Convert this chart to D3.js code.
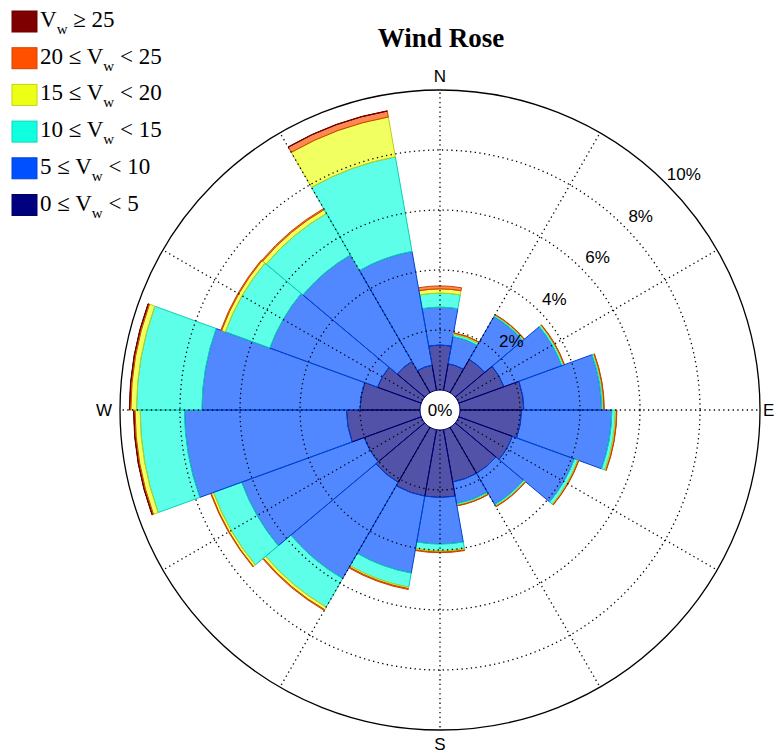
<!DOCTYPE html>
<html>
<head>
<meta charset="utf-8">
<script src="https://cdn.jsdelivr.net/npm/d3@7"></script>
<style>
  body { margin: 0; background: #fff; }
</style>
</head>
<body>
<div id="viz"></div>
<script>
const width = 776;
const height = 756;
const cx = 440;
const cy = 410;

// wind direction of each sector (deg, clockwise from N), 20 deg wide
const directions = [0, 20, 40, 60, 80, 100, 120, 140, 160, 180, 200, 220, 240, 260, 280, 300, 320, 340];

// frequency (%) per speed class for each direction
const v0to5   = [1.50, 0.90, 1.28, 1.60, 2.13, 2.05, 1.90, 1.77, 1.77, 2.25, 2.25, 2.12, 2.02, 2.45, 2.00, 1.55, 1.20, 0.85];
const v5to10  = [1.26, 0.92, 1.65, 2.05, 2.59, 3.01, 2.20, 1.20, 0.73, 1.55, 2.60, 3.70, 4.35, 5.40, 5.27, 3.82, 4.10, 3.85];
const v10to15 = [0.47, 0.08, 0.05, 0.07, 0.06, 0.12, 0.12, 0.06, 0.05, 0.23, 0.48, 1.10, 1.00, 1.48, 2.18, 1.58, 1.60, 3.20];
const v15to20 = [0.14, 0.04, 0.02, 0.02, 0.02, 0.04, 0.03, 0.02, 0.02, 0.04, 0.05, 0.10, 0.08, 0.17, 0.19, 0.13, 0.15, 1.35];
const v20to25 = [0.10, 0.01, 0.01, 0.01, 0.01, 0.01, 0.01, 0.01, 0.01, 0.02, 0.03, 0.03, 0.02, 0.04, 0.04, 0.03, 0.04, 0.20];
const v25up   = [0.00, 0.00, 0.00, 0.00, 0.00, 0.00, 0.00, 0.00, 0.00, 0.00, 0.00, 0.00, 0.00, 0.01, 0.01, 0.00, 0.00, 0.01];

const speedSeries = [v0to5, v5to10, v10to15, v15to20, v20to25, v25up];
const binColors = ['#00007f', '#0050ff', '#10ffdf', '#ecff14', '#ff5000', '#7f0000'];

// legend rows, top to bottom: [before "V", after subscript]
const legendPrefix = ['', '20 \u2264 ', '15 \u2264 ', '10 \u2264 ', '5 \u2264 ', '0 \u2264 '];
const legendSuffix = [' \u2265 25', ' < 25', ' < 20', ' < 15', ' < 10', ' < 5'];
const legendColors = ['#7f0000', '#ff5000', '#ecff14', '#10ffdf', '#0050ff', '#00007f'];

const ringTicks = [2, 4, 6, 8, 10];
const compassNames = ['N', 'E', 'S', 'W'];
const compassAngles = [0, 90, 180, 270];

const sectorWidth = 20;

const rScale = d3.scaleLinear()
    .domain([0, 10])
    .range([20, 320]);

const svg = d3.select('#viz')
    .append('svg')
        .attr('width', width)
        .attr('height', height)
        .attr('viewBox', [0, 0, width, height]);

svg.append('rect')
    .attr('width', width)
    .attr('height', height)
    .attr('fill', '#fff');

const g = svg.append('g')
    .attr('transform', `translate(${cx}, ${cy})`);

// build stacked pieces
let pieces = [];
directions.forEach((dir, i) => {
    let cum = 0;
    speedSeries.forEach((series, k) => {
        const v = series[i];
        if (v > 0) {
            pieces.push({dir: dir, lo: cum, hi: cum + v, k: k});
        }
        cum += v;
    });
});

const arc = d3.arc()
    .innerRadius(d => rScale(d.lo))
    .outerRadius(d => rScale(d.hi))
    .startAngle(d => (d.dir - sectorWidth / 2) * Math.PI / 180)
    .endAngle(d => (d.dir + sectorWidth / 2) * Math.PI / 180);

g.selectAll('path.sector')
    .data(pieces)
    .join('path')
        .attr('class', 'sector')
        .attr('d', arc)
        .attr('fill', d => binColors[d.k])
        .attr('fill-opacity', 0.68)
        .attr('stroke', d => d3.color(binColors[d.k]).darker(0.6))
        .attr('stroke-width', 1);

// grid circles (dotted) and outer circle
g.selectAll('circle.grid')
    .data(ringTicks)
    .join('circle')
        .attr('class', 'grid')
        .attr('r', d => rScale(d))
        .attr('fill', 'none')
        .attr('stroke', '#000')
        .attr('stroke-width', 1.3)
        .attr('stroke-dasharray', d => d === 10 ? null : '1.3,3.4');

// spokes every 30 deg
const spokes = d3.range(0, 360, 30);
g.selectAll('line.spoke')
    .data(spokes)
    .join('line')
        .attr('class', 'spoke')
        .attr('x1', d => rScale(0) * Math.sin(d * Math.PI / 180))
        .attr('y1', d => -rScale(0) * Math.cos(d * Math.PI / 180))
        .attr('x2', d => rScale(10) * Math.sin(d * Math.PI / 180))
        .attr('y2', d => -rScale(10) * Math.cos(d * Math.PI / 180))
        .attr('stroke', '#000')
        .attr('stroke-width', 1.3)
        .attr('stroke-dasharray', '1.3,3.4');

// white hole with 0%
g.append('circle')
    .attr('r', rScale(0) - 1)
    .attr('fill', '#fff');

g.append('text')
    .attr('x', 0)
    .attr('y', 0)
    .attr('text-anchor', 'middle')
    .attr('dominant-baseline', 'central')
    .style('font-family', '"Liberation Sans", Arial, sans-serif')
    .style('font-size', '17px')
    .text('0%');

// ring labels along ~46 deg
const labelAngle = 46 * Math.PI / 180;
g.selectAll('text.ring')
    .data(ringTicks)
    .join('text')
        .attr('class', 'ring')
        .attr('x', d => (rScale(d) + 19) * Math.sin(labelAngle))
        .attr('y', d => -(rScale(d) + 19) * Math.cos(labelAngle))
        .attr('text-anchor', 'middle')
        .attr('dominant-baseline', 'central')
        .style('font-family', '"Liberation Sans", Arial, sans-serif')
        .style('font-size', '17px')
        .text(d => d + '%');

// compass labels
g.selectAll('text.compass')
    .data(compassNames)
    .join('text')
        .attr('class', 'compass')
        .attr('x', (d, i) => (d === 'E' ? 323 : (rScale(10) + 16) * Math.sin(compassAngles[i] * Math.PI / 180)))
        .attr('y', (d, i) => -(rScale(10) + 14) * Math.cos(compassAngles[i] * Math.PI / 180))
        .attr('text-anchor', d => d === 'E' ? 'start' : 'middle')
        .attr('dominant-baseline', 'central')
        .style('font-family', '"Liberation Sans", Arial, sans-serif')
        .style('font-size', '17px')
        .text(d => d);

// title
svg.append('text')
    .attr('x', 441)
    .attr('y', 47)
    .attr('text-anchor', 'middle')
    .style('font-family', '"Liberation Serif", "Times New Roman", serif')
    .style('font-weight', 'bold')
    .style('font-size', '27px')
    .text('Wind Rose');

// legend
const legend = svg.append('g');
const rowY = i => 21.5 + i * 36.7;

legend.selectAll('rect')
    .data(legendColors)
    .join('rect')
        .attr('x', 12)
        .attr('y', (d, i) => rowY(i) - 10.5)
        .attr('width', 25)
        .attr('height', 21)
        .attr('fill', d => d)
        .attr('stroke', d => d3.color(d).darker(0.5))
        .attr('stroke-width', 1);

legendPrefix.forEach((pre, i) => {
    const t = legend.append('text')
        .attr('x', 40)
        .attr('y', rowY(i) + 5.5)
        .style('font-family', '"Liberation Serif", "Times New Roman", serif')
        .style('font-size', '23px');
    t.append('tspan').text(pre + 'V');
    t.append('tspan').attr('dy', 7).style('font-size', '15px').text('w');
    t.append('tspan').attr('dy', -7).text(legendSuffix[i]);
});
</script>
</body>
</html>
